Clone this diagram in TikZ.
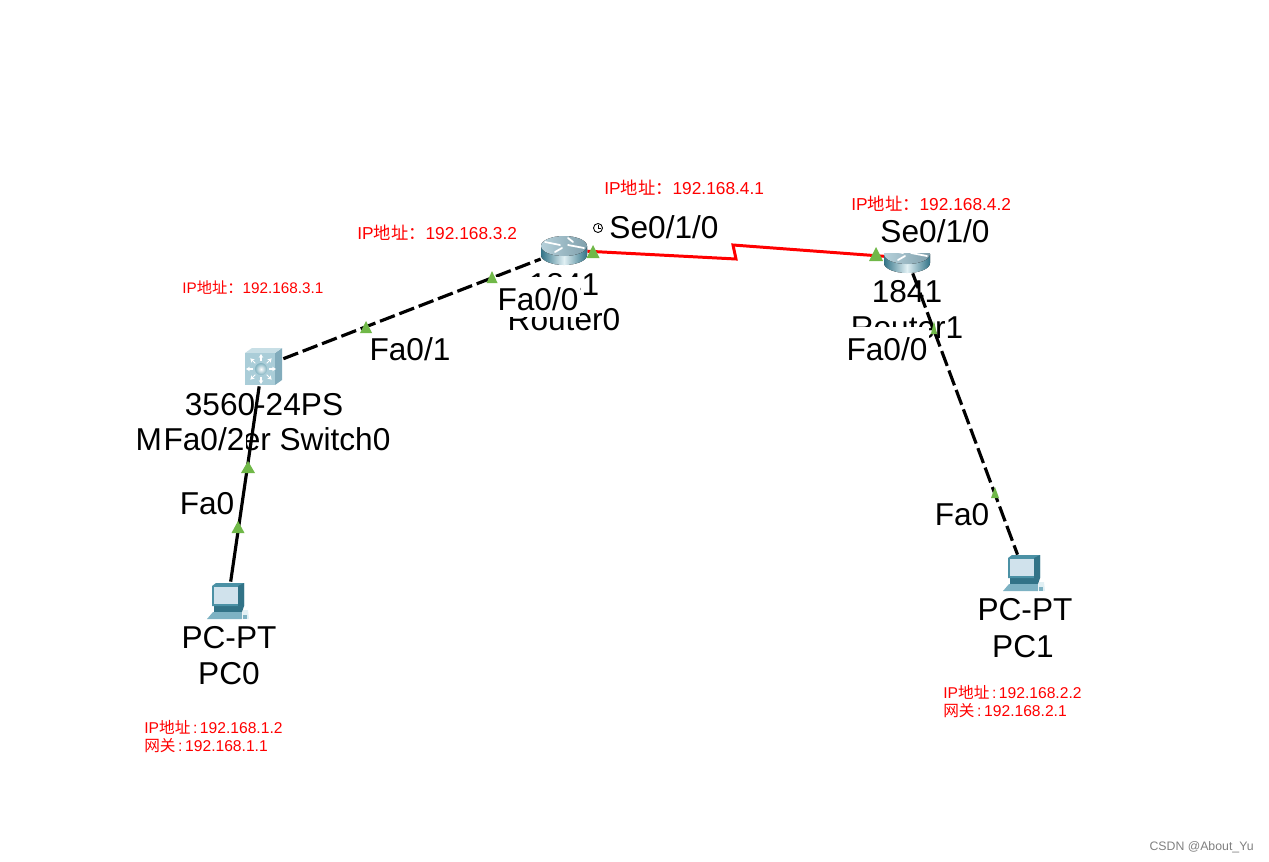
\documentclass[tikz,border=0pt]{standalone}
\usepackage{fontspec}
\setmainfont{Liberation Sans}
\newfontfamily\cjk{Noto Sans CJK SC}
\usepackage{tikz}
\usetikzlibrary{positioning, calc, arrows.meta}
\usepackage{xcolor}
\definecolor{portgreen}{RGB}{112,184,72}
\definecolor{tealdark}{RGB}{50,115,135}
\definecolor{tealmid}{RGB}{75,145,165}
\definecolor{teallight}{RGB}{225,240,244}
\definecolor{routertop}{RGB}{150,188,202}
\definecolor{switchface}{RGB}{170,205,216}
\definecolor{switchside}{RGB}{130,172,188}
\definecolor{screenblue}{RGB}{208,226,236}
\definecolor{pcbase}{RGB}{125,178,195}
\newcommand{\ipprefix}{IP{\cjk 地址：}}
\newcommand{\ipshort}{IP{\cjk 地址}\,:\,}
\newcommand{\gwshort}{{\cjk 网关}\,:\,}
\tikzset{
    devicenode/.style={
        inner sep=0pt,
        minimum width=44*0.02cm,
        minimum height=30*0.02cm
    },
    devicelabel/.style={
        font=\fontsize{18}{18}\selectfont,
        anchor=base,
        inner sep=0pt
    },
    portlabel/.style={
        font=\fontsize{18}{18}\selectfont,
        anchor=base,
        fill=white,
        inner xsep=1pt,
        inner ysep=0pt,
        text height=18.6pt,
        text depth=4.2pt
    },
    iplabel/.style={
        font=\fontsize{9.85}{10}\selectfont,
        text=red,
        anchor=base west,
        inner sep=0pt
    },
    pclabel/.style={
        font=\fontsize{8.9}{9}\selectfont,
        text=red,
        anchor=base west,
        inner sep=0pt
    },
    ethlink/.style={
        line width=1.8pt
    },
    crosslink/.style={
        line width=1.8pt,
        dash pattern=on 9pt off 2.8pt
    },
    seriallink/.style={
        line width=1.7pt,
        red
    },
    routericon/.pic={
        \fill[left color=tealdark, right color=tealdark, middle color=teallight]
            (-23,-4) -- (-23,5) arc[start angle=180, end angle=360, x radius=23, y radius=-10]
            -- (23,-4) -- cycle;
        \fill[left color=routertop!70!white, right color=routertop!85!black] (0,-4) ellipse[x radius=23, y radius=10];
        \draw[white, line width=1pt, line cap=round] (-19,-8) -- (-4,-5);
        \draw[white, line width=1pt, line cap=round] (4,-12) -- (9,-8);
        \draw[white, line width=1pt, line cap=round] (4,-5) -- (20,-2);
        \draw[white, line width=1pt, line cap=round] (-9,2) -- (-2,-2);
    },
    switchicon/.pic={
        \fill[switchside] (13,-14) -- (20,-19) -- (20,13) -- (13,18) -- cycle;
        \fill[switchface!65!white] (-17,-14) -- (-10,-19) -- (20,-19) -- (13,-14) -- cycle;
        \fill[switchface] (-17,-14) rectangle (13,18);
        \foreach \a in {0,45,...,315}
            \draw[white, line width=0.6pt, shift={(-1,2)}, -{Stealth[length=2.2pt,width=2.6pt]}] (\a:8) -- (\a:15);
        \shade[inner color=white, outer color=tealmid!70] (-1,2) circle (6);
    },
    pcicon/.pic={
        \fill[tealdark] (-14,6) -- (16,6) -- (14,12) -- (-14,12) -- cycle;
        \fill[pcbase] (-21,19) -- (-15,12) -- (14,12) -- (14,19) -- cycle;
        \fill[teallight] (15,10) -- (20,10) -- (21,19) -- (15,19) -- cycle;
        \fill[pcbase] (15,15) rectangle (19,19);
        \fill[tealmid] (-16,-14) -- (-12,-17) -- (16,-17) -- (16,6) -- (-16,6) -- cycle;
        \fill[tealdark] (10,-14) -- (16,-17) -- (16,6) -- (10,6) -- cycle;
        \fill[screenblue] (-14,-13) rectangle (10,4);
    }
}
\begin{document}
\begin{tikzpicture}[x=0.02cm, y=-0.02cm]
    \useasboundingbox (0,0) rectangle (1269,862);

    \node[devicenode, minimum width=42*0.02cm, minimum height=38*0.02cm] (switch0) at (262,367) {};
    \node[devicenode, minimum width=46*0.02cm] (router0) at (564,250) {};
    \node[devicenode] (router1) at (907,258) {};
    \node[devicenode, minimum height=36*0.02cm] (pc0) at (228,600) {};
    \node[devicenode, minimum height=34*0.02cm] (pc1) at (1024,572) {};
    \coordinate (zigleft) at (736,259);
    \coordinate (zigright) at (733,245);

    \node[devicelabel] (switch0model) at (264,415) {3560-24PS};
    \node[devicelabel] (switch0name) at (263,450) {Multilayer Switch0};
    \node[devicelabel] (router0model) at (564,295) {1841};
    \node[devicelabel] (router0name) at (564,330) {Router0};
    \node[devicelabel] (router1model) at (907,302) {1841};
    \node[devicelabel] (router1name) at (907,338) {Router1};
    \node[devicelabel] (pc0model) at (229,648) {PC-PT};
    \node[devicelabel] (pc0name) at (229,684) {PC0};
    \node[devicelabel] (pc1model) at (1025,620) {PC-PT};
    \node[devicelabel] (pc1name) at (1023,657) {PC1};

    \draw[ethlink] (pc0) -- (switch0);
    \draw[crosslink] (switch0) -- (router0);
    \draw[crosslink] (router1) -- (pc1);
    \draw[seriallink] (router0) -- (zigleft) -- (zigright) -- (router1);

    \pic at (router0) {routericon};
    \pic at (router1) {routericon};
    \pic at (switch0) {switchicon};
    \pic at (pc0) {pcicon};
    \pic at (pc1) {pcicon};

    \node[portlabel] (sw0fa02) at (204,450) {Fa0/2};
    \node[portlabel] (pc0fa0) at (207,514) {Fa0};
    \node[portlabel] (sw0fa01) at (410,360) {Fa0/1};
    \node[portlabel] (r0fa00) at (538,310) {Fa0/0};
    \node[portlabel] (r0se010) at (664,238) {Se0/1/0};
    \node[portlabel, text depth=6.5pt] (r1se010) at (935,242) {Se0/1/0};
    \node[portlabel] (r1fa00) at (887,360) {Fa0/0};
    \node[portlabel] (pc1fa0) at (962,525) {Fa0};

    \foreach \tx/\ty/\tw/\th in {593/245/13/13, 876/247/14/14, 366/321/12/12, 248/461/14/12,
                                 238/521/13/12, 492/271/11/12, 934/321/6/13, 995/487/8/11}
        \fill[portgreen] (\tx,\ty) -- (\tx+\tw/2,\ty+\th) -- (\tx-\tw/2,\ty+\th) -- cycle;

    \draw[line width=0.5pt] (598,228) circle (4.5);
    \draw[line width=0.4pt] (598,225) -- (598,228) -- (601,228);

    \node[iplabel] (ipr0se) at (604,194) {\ipprefix 192.168.4.1};
    \node[iplabel] (ipr1se) at (851,210) {\ipprefix 192.168.4.2};
    \node[iplabel] (ipr0fa) at (357,239) {\ipprefix 192.168.3.2};
    \node[pclabel, font=\fontsize{8.7}{9}\selectfont] (ipsw0) at (182,293) {\ipprefix 192.168.3.1};
    \node[pclabel] (ippc0) at (144,733) {\ipshort 192.168.1.2};
    \node[pclabel] (gwpc0) at (144,751) {\gwshort 192.168.1.1};
    \node[pclabel] (ippc1) at (943,698) {\ipshort 192.168.2.2};
    \node[pclabel] (gwpc1) at (943,716) {\gwshort 192.168.2.1};

    \node[anchor=base east, inner sep=0pt, text=gray, font=\fontsize{7}{7}\selectfont] (mark) at (1254,850) {CSDN @About\_Yu};
\end{tikzpicture}
\end{document}
